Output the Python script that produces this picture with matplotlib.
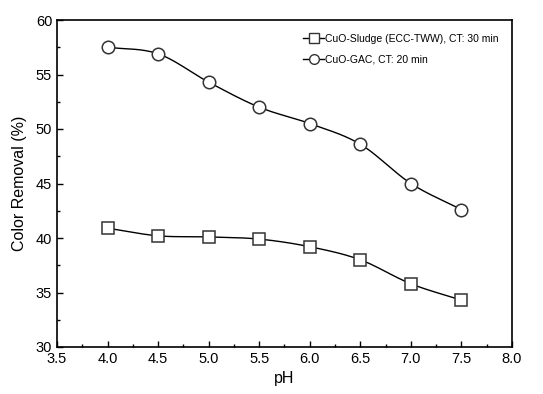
import numpy as np
import matplotlib
matplotlib.use('Agg')
import matplotlib.pyplot as plt

plt.rcParams['font.family'] = ['Liberation Sans', 'DejaVu Sans']

# Data
ph = [4.0, 4.5, 5.0, 5.5, 6.0, 6.5, 7.0, 7.5]
sludge = [40.9, 40.2, 40.1, 39.9, 39.2, 38.0, 35.8, 34.3]
gac = [57.5, 56.9, 54.3, 52.0, 50.5, 48.6, 45.0, 42.6]
labels = ['CuO-Sludge (ECC-TWW), CT: 30 min', 'CuO-GAC, CT: 20 min']


def smooth(x, y, n=20):
    # Catmull-Rom curve through the measured points
    x = np.asarray(x, float)
    y = np.asarray(y, float)
    px = np.concatenate([[2 * x[0] - x[1]], x, [2 * x[-1] - x[-2]]])
    py = np.concatenate([[2 * y[0] - y[1]], y, [2 * y[-1] - y[-2]]])
    xs, ys = [], []
    t = np.linspace(0, 1, n, endpoint=False)
    for i in range(1, len(px) - 2):
        for p, out in ((px, xs), (py, ys)):
            p0, p1, p2, p3 = p[i - 1], p[i], p[i + 1], p[i + 2]
            out.extend(0.5 * (2 * p1 + (-p0 + p2) * t
                              + (2 * p0 - 5 * p1 + 4 * p2 - p3) * t ** 2
                              + (-p0 + 3 * p1 - 3 * p2 + p3) * t ** 3))
    xs.append(x[-1])
    ys.append(y[-1])
    return xs, ys


fig = plt.figure(figsize=(5.43, 3.94), dpi=100)
ax = fig.add_axes([57 / 543, 47 / 394, 455 / 543, 327 / 394])

for y, m, lab in ((sludge, 's', labels[0]), (gac, 'o', labels[1])):
    sx, sy = smooth(ph, y)
    ax.plot(sx, sy, color='black', lw=1.0)
    ax.plot(ph, y, ls='none', marker=m, ms=9, mfc='white', mec='#333333', mew=1.1)
    ax.plot([], [], color='black', lw=1.0, marker=m, ms=7, mfc='white',
            mec='#333333', label=lab)

ax.set_xlim(3.5, 8.0)
ax.set_ylim(30, 60)
ax.set_xticks(np.arange(3.5, 8.01, 0.5))
ax.set_xticklabels(['%.1f' % v for v in np.arange(3.5, 8.01, 0.5)])
ax.set_yticks(range(30, 61, 5))
ax.set_xticks(np.arange(3.5, 8.01, 0.25), minor=True)
ax.set_yticks(np.arange(30, 60.1, 2.5), minor=True)
ax.tick_params(direction='in', labelsize=10.5, length=4, width=1)
ax.tick_params(which='minor', direction='in', length=2.5, width=1)
for s in ax.spines.values():
    s.set_linewidth(1.2)

ax.set_xlabel('pH', fontsize=11.5, labelpad=4)
ax.set_ylabel('Color Removal (%)', fontsize=11.5, labelpad=6)

ax.legend(loc='upper right', frameon=False, fontsize=7.5, handlelength=2.0,
          handletextpad=0.1, labelspacing=1.05, borderaxespad=0.9)

fig.savefig('out.png', dpi=100)
